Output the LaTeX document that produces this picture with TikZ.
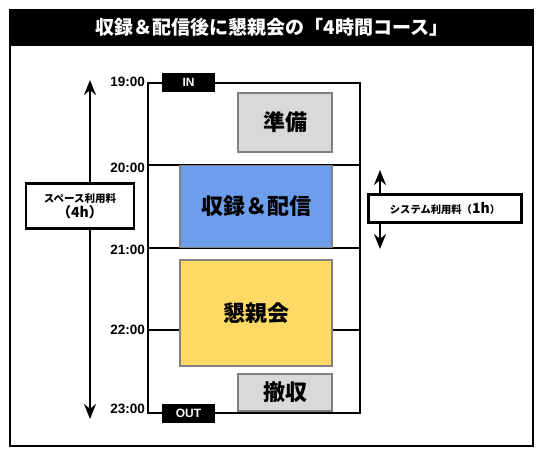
\documentclass[tikz,border=0pt]{standalone}
\usepackage{fontspec}
\setmainfont{Liberation Sans}
\newfontfamily\jp{Noto Sans CJK JP}
\usetikzlibrary{arrows.meta, positioning}
\definecolor{prepgray}{RGB}{217,217,217}
\definecolor{liveblue}{RGB}{109,158,235}
\definecolor{partyyellow}{RGB}{255,217,102}

\begin{document}
\begin{tikzpicture}[x=1pt, y=-1pt]
    \tikzstyle{hourline} = [line width=1.3pt]
    \tikzstyle{hour} = [anchor=east, font=\bfseries\fontsize{13.5}{14}\selectfont, inner sep=1pt]
    \tikzstyle{tag} = [fill=black, text=white, font=\bfseries\fontsize{12}{12}\selectfont, minimum width=53pt, minimum height=19pt, inner sep=0pt]
    \tikzstyle{task} = [draw=gray, line width=1.3pt, font=\jp\bfseries\fontsize{22}{24}\selectfont, inner sep=0pt]
    \tikzstyle{fee} = [draw, line width=2.4pt, fill=white, align=center, inner sep=0pt]
    \tikzstyle{span} = [line width=2.2pt, {Stealth[length=15pt,width=12pt]}-{Stealth[length=15pt,width=12pt]}]

    \useasboundingbox (0,0) rectangle (545,451);

    % frame and title
    \draw [line width=2pt] (10,10) rectangle (533,446);
    \fill (10,10) rectangle (533,46);
    \node [text=white, font=\jp\bfseries\fontsize{19}{22}\selectfont] (title) at (272,27) {収録＆配信後に懇親会の「4時間コース」};

    % hours
    \coordinate (t19) at (148,83);
    \coordinate (t20) at (148,165);
    \coordinate (t21) at (148,248);
    \coordinate (t22) at (148,330);
    \coordinate (t23) at (148,413);
    \coordinate (e20) at (360,165);
    \coordinate (e21) at (360,248);
    \coordinate (e22) at (360,330);
    \draw [hourline] (t19) rectangle (360,413);
    \draw [hourline] (t20) -- (e20);
    \draw [hourline] (t21) -- (e21);
    \draw [hourline] (t22) -- (e22);
    \node [hour] (h19) at (146,82) {19:00};
    \node [hour] (h20) at (146,168) {20:00};
    \node [hour] (h21) at (146,250) {21:00};
    \node [hour] (h22) at (146,330) {22:00};
    \node [hour] (h23) at (146,409) {23:00};
    \node [tag] (in) at (188.5,82) {IN};
    \node [tag] (out) at (188.5,413) {OUT};

    % tasks
    \node [task, fill=prepgray, minimum width=94pt, minimum height=59pt] (prep) at (285,122.5) {準備};
    \node [task, fill=liveblue, minimum width=152pt, minimum height=82pt] (live) at (256,206.5) {収録＆配信};
    \node [task, fill=partyyellow, minimum width=152pt, minimum height=106pt] (party) at (256,313) {懇親会};
    \node [task, fill=prepgray, minimum width=94pt, minimum height=37pt] (clear) at (285,392.5) {撤収};

    % fees
    \coordinate (spTop) at (90,80);
    \coordinate (spBot) at (90,419);
    \draw [span] (spTop) -- (spBot);
    \node [fee, minimum width=108pt, minimum height=45pt] (space) at (80,206) {{\jp\bfseries\fontsize{10.5}{12}\selectfont スペース利用料}\\[1pt] {\jp\bfseries\fontsize{14}{16}\selectfont （4h）}};
    \coordinate (syTop) at (380,170);
    \coordinate (syBot) at (380,249);
    \draw [span] (syTop) -- (syBot);
    \node [fee, minimum width=153pt, minimum height=28pt] (system) at (445,208.5) {\jp\bfseries\fontsize{10.3}{12}\selectfont システム利用料（{\fontsize{14}{16}\selectfont 1h}）};
\end{tikzpicture}
\end{document}
